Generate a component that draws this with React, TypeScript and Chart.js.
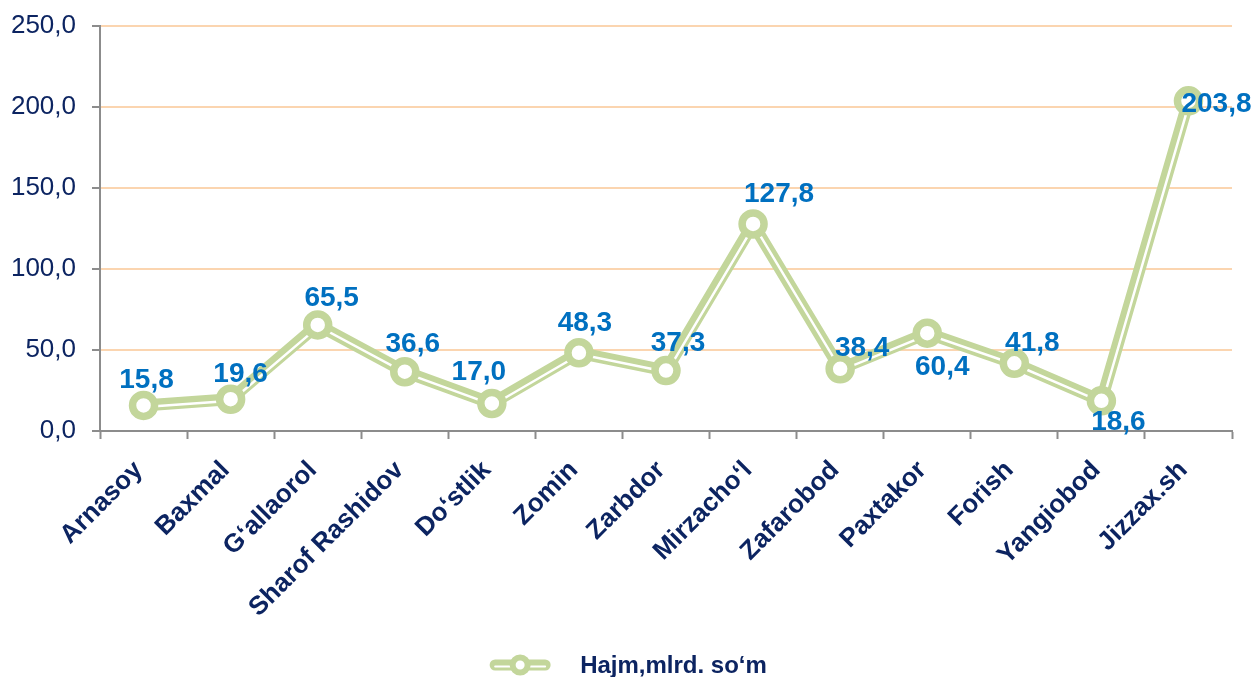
import React, { useEffect, useRef } from "react";
import { Chart, registerables } from "chart.js";

Chart.register(...registerables);

const categories = [
  "Arnasoy",
  "Baxmal",
  "G‘allaorol",
  "Sharof Rashidov",
  "Do‘stlik",
  "Zomin",
  "Zarbdor",
  "Mirzacho‘l",
  "Zafarobod",
  "Paxtakor",
  "Forish",
  "Yangiobod",
  "Jizzax.sh",
];
const values = [15.8, 19.6, 65.5, 36.6, 17.0, 48.3, 37.3, 127.8, 38.4, 60.4, 41.8, 18.6, 203.8];
const seriesName = "Hajm,mlrd. so‘m";
const yMin = 0;
const yMax = 250;
const yStep = 50;

// label placement offsets (style only), in px relative to each point
const labelOffsets: [number, number][] = [
  [3, -25],
  [10, -25],
  [14, -27],
  [8, -27],
  [-13, -31],
  [6, -29],
  [12, -27],
  [26, -30],
  [22, -21],
  [15, 34],
  [18, -20],
  [17, 21],
  [28, 3],
];

const GREEN = "#C3D69B";
const NAVY = "#0C2461";
const BLUE = "#0070C0";
const FONT = "'Liberation Sans', Arial, sans-serif";

const fmt = (v: number) => v.toFixed(1).replace(".", ",");

const dataLabelPlugin = {
  id: "dataLabelPlugin",
  beforeDatasetDraw(chart: any, args: any) {
    if (args.index === 1) {
      chart.ctx.save();
      chart.ctx.translate(1, 1.5);
    }
  },
  afterDatasetDraw(chart: any, args: any) {
    if (args.index === 1) chart.ctx.restore();
  },
  afterDatasetsDraw(chart: any) {
    const meta = chart.getDatasetMeta(2);
    const ctx = chart.ctx;
    ctx.save();
    ctx.font = `bold 28px ${FONT}`;
    ctx.fillStyle = BLUE;
    ctx.textAlign = "center";
    ctx.textBaseline = "middle";
    meta.data.forEach((el: any, i: number) => {
      const [dx, dy] = labelOffsets[i] || [0, -25];
      ctx.fillText(fmt(values[i]), el.x + dx, el.y + dy);
    });
    ctx.restore();
  },
  afterDraw(chart: any) {
    // legend
    const ctx = chart.ctx;
    ctx.save();
    ctx.font = `bold 24px ${FONT}`;
    const tw = ctx.measureText(seriesName).width;
    const iconW = 60;
    const gap = 30;
    const total = iconW + gap + tw;
    const x0 = (chart.width - total) / 2 + 2;
    const cy = 665;
    ctx.lineCap = "round";
    ctx.strokeStyle = GREEN;
    ctx.lineWidth = 11;
    ctx.beginPath();
    ctx.moveTo(x0 + 5, cy);
    ctx.lineTo(x0 + iconW - 5, cy);
    ctx.stroke();
    ctx.strokeStyle = "#ffffff";
    ctx.lineWidth = 2;
    ctx.beginPath();
    ctx.moveTo(x0 + 5, cy + 1.5);
    ctx.lineTo(x0 + iconW - 5, cy + 1.5);
    ctx.stroke();
    ctx.beginPath();
    ctx.arc(x0 + iconW / 2, cy, 7.5, 0, Math.PI * 2);
    ctx.fillStyle = "#ffffff";
    ctx.fill();
    ctx.strokeStyle = GREEN;
    ctx.lineWidth = 6;
    ctx.stroke();
    ctx.fillStyle = NAVY;
    ctx.textAlign = "left";
    ctx.textBaseline = "middle";
    ctx.fillText(seriesName, x0 + iconW + gap, cy + 1);
    ctx.restore();
  },
};

export default function App() {
  const ref = useRef<HTMLCanvasElement | null>(null);

  useEffect(() => {
    if (!ref.current) return;
    const chart = new Chart(ref.current, {
      type: "line",
      data: {
        labels: categories,
        datasets: [
          {
            label: "line",
            data: values,
            borderColor: GREEN,
            borderWidth: 12,
            pointRadius: 0,
            fill: false,
            tension: 0,
            order: 3,
          },
          {
            label: "stripe",
            data: values,
            borderColor: "#ffffff",
            borderWidth: 2.5,
            pointRadius: 0,
            fill: false,
            tension: 0,
            order: 2,
          },
          {
            label: seriesName,
            data: values,
            showLine: false,
            pointRadius: 11,
            pointBorderWidth: 7.5,
            pointBackgroundColor: "#ffffff",
            pointBorderColor: GREEN,
            order: 1,
          },
        ],
      },
      options: {
        responsive: false,
        animation: false,
        maintainAspectRatio: false,
        layout: { padding: { top: 26, right: 21, left: 0, bottom: 46 } },
        plugins: {
          tooltip: { enabled: false },
          legend: { display: false },
        },
        scales: {
          x: {
            offset: true,
            grid: {
              offset: true,
              drawOnChartArea: false,
              drawTicks: true,
              tickLength: 8,
              tickColor: "#8C8C8C",
              tickWidth: 2,
            },
            border: { color: "#8C8C8C", width: 2 },
            ticks: {
              color: NAVY,
              font: { family: FONT, size: 26, weight: "bold" },
              minRotation: 45,
              maxRotation: 45,
              padding: 16,
              labelOffset: -5,
              autoSkip: false,
            },
            afterFit: (scale: any) => {
              scale.height = 200;
            },
          },
          y: {
            min: yMin,
            max: yMax,
            grid: {
              color: "#FBD5B0",
              lineWidth: 2,
              tickLength: 8,
              tickColor: "#8C8C8C",
              tickWidth: 2,
            },
            border: { color: "#8C8C8C", width: 2 },
            ticks: {
              stepSize: yStep,
              color: NAVY,
              font: { family: FONT, size: 26 },
              padding: 16,
              callback: (v: any) => fmt(Number(v)),
            },
            afterFit: (scale: any) => {
              scale.width = 100;
              scale.paddingTop = 0;
            },
          },
        },
      },
      plugins: [dataLabelPlugin],
    });
    return () => chart.destroy();
  }, []);

  return (
    <div style={{ position: "absolute", left: 0, top: 0, width: 1253, height: 677, background: "#fff" }}>
      <canvas ref={ref} width={1253} height={677} style={{ display: "block" }} />
    </div>
  );
}
